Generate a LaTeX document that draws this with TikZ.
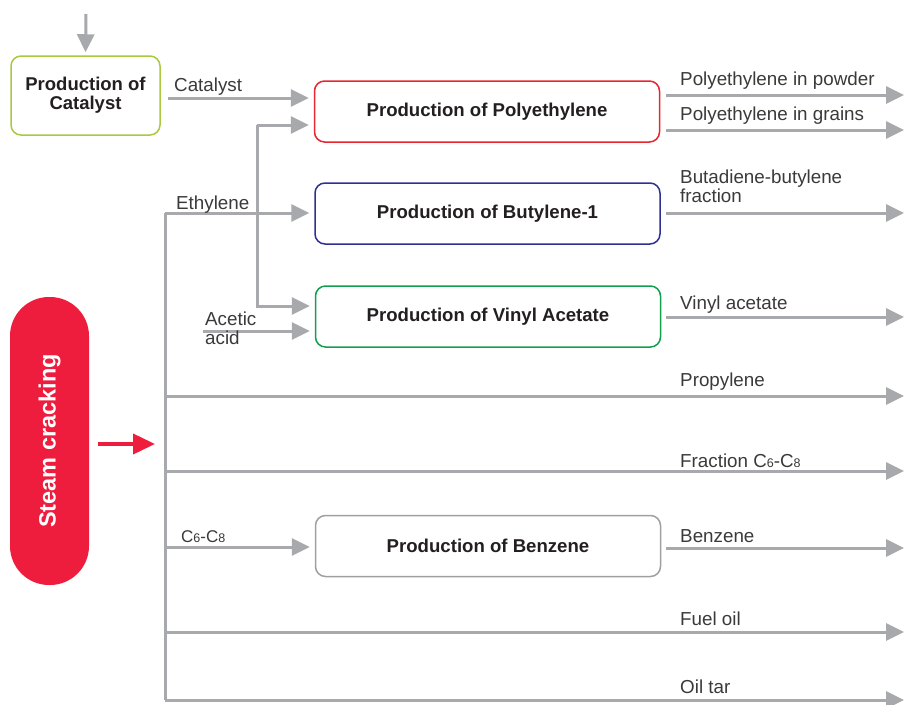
\documentclass[tikz,border=0pt]{standalone}
\usepackage{fontspec}
\setmainfont{Liberation Sans}
\usetikzlibrary{arrows.meta,positioning,calc}
\definecolor{flowgray}{HTML}{A7A9AC}
\definecolor{txtgray}{HTML}{3A3A3A}
\definecolor{boxtxt}{HTML}{231F20}
\definecolor{catgreen}{HTML}{A9C93F}
\definecolor{pered}{HTML}{E8262E}
\definecolor{bublue}{HTML}{2E3192}
\definecolor{vagreen}{HTML}{11A050}
\definecolor{bzgray}{HTML}{A0A0A0}
\definecolor{steamred}{HTML}{EE1C3D}
\newcommand{\subsm}[1]{{\fontsize{12.5}{12}\selectfont #1}}
\tikzset{
  flow/.style={draw=flowgray, line width=3pt, -{Triangle[length=18pt,width=17pt]}},
  flowline/.style={draw=flowgray, line width=3pt},
  procbox/.style={draw, line width=1.5pt, rounded corners=10pt, fill=white,
    minimum width=345pt, minimum height=61pt, text=boxtxt,
    font=\fontsize{18.6}{20}\selectfont\bfseries, align=center},
  lbl/.style={text=txtgray, font=\fontsize{18.8}{19}\selectfont, anchor=base west, inner sep=0pt, align=left},
}
\begin{document}
\begin{tikzpicture}[x=1pt,y=-1pt]
\useasboundingbox (0,0) rectangle (904,704);
\fill[white] (0,0) rectangle (904,704);

% boxes
\node[procbox, draw=catgreen, minimum width=149pt, minimum height=79pt, font=\fontsize{18.5}{19}\selectfont\bfseries] (cat) at (85.5,95.5) {Production of\\Catalyst};
\node[procbox, draw=pered] (pe) at (487,111.5) {Production of Polyethylene};
\node[procbox, draw=bublue] (bu) at (487.5,213.5) {Production of Butylene-1};
\node[procbox, draw=vagreen] (va) at (488,316.5) {Production of Vinyl Acetate};
\node[procbox, draw=bzgray] (bz) at (488,546) {Production of Benzene};

% steam cracking
\node[fill=steamred, rounded corners=39pt, minimum width=79pt, minimum height=288pt, inner sep=0pt] (sc) at (49.5,441) {};
\node[rotate=90, text=white, font=\fontsize{23.5}{24}\selectfont\bfseries] (sct) at (sc.center) {Steam cracking};

% coordinates
\coordinate (topin) at (86,14);
\coordinate (catout) at (168,98);
\coordinate (peinB) at (257,125);
\coordinate (vain) at (257,306);
\coordinate (eth) at (165,213);
\coordinate (acet) at (203,331);
\coordinate (redS) at (98,444);
\coordinate (redE) at (155,444);
\coordinate (mainbot) at (165,700);
\coordinate (prop) at (165,396);
\coordinate (frac) at (165,471);
\coordinate (c68) at (165,547);
\coordinate (fuel) at (165,632);
\coordinate (o1) at (904,95);
\coordinate (o2) at (904,130);
\coordinate (o3) at (904,213);
\coordinate (o4) at (904,317);
\coordinate (o5) at (904,396);
\coordinate (o6) at (904,471);
\coordinate (o7) at (904,548);
\coordinate (o8) at (904,632);
\coordinate (o9) at (904,700);

% top input
\draw[flow, shorten >=3pt] (topin) -- (cat.north);

% catalyst
\draw[flow, shorten >=5pt] (catout) -- (pe.west |- catout);
\node[lbl] (lcat) at (174,91) {Catalyst};

% ethylene branch to PE and VA
\draw[flow, shorten >=5pt] (peinB) -- (vain) -- (va.west |- vain);
\draw[flow, shorten >=5pt] (peinB) -- (pe.west |- peinB);

% main trunk
\draw[flowline] (eth) -- (mainbot);
\draw[flow, shorten >=5pt] (eth) -- (bu.west |- eth);
\node[lbl] (leth) at (176,209) {Ethylene};

% acetic acid
\draw[flow, shorten >=5pt] (acet) -- (va.west |- acet);
\node[lbl, font=\fontsize{18.8}{19}\selectfont] (lacet) at (205,344) {Acetic\\acid};

% red arrow
\draw[draw=steamred, line width=3.8pt, -{Triangle[length=22pt,width=20pt]}] (redS) -- (redE);

% outputs
\draw[flow, shorten <=6pt] (pe.east |- o1) -- (o1);
\node[lbl] (l1) at (680,85) {Polyethylene in powder};
\draw[flow, shorten <=6pt] (pe.east |- o2) -- (o2);
\node[lbl] (l2) at (680,120) {Polyethylene in grains};
\draw[flow, shorten <=5pt] (bu.east |- o3) -- (o3);
\node[lbl, font=\fontsize{18.8}{19}\selectfont] (l3) at (680,202) {Butadiene-butylene\\fraction};
\draw[flow, shorten <=5pt] (va.east |- o4) -- (o4);
\node[lbl] (l4) at (680,309) {Vinyl acetate};
\draw[flow] (prop) -- (o5);
\node[lbl] (l5) at (680,386) {Propylene};
\draw[flow] (frac) -- (o6);
\node[lbl] (l6) at (680,467) {Fraction C\subsm{6}-C\subsm{8}};
\draw[flow, shorten >=5pt] (c68) -- (bz.west |- c68);
\node[lbl, font=\fontsize{17}{18}\selectfont] (l68) at (181,542) {C\subsm{6}-C\subsm{8}};
\draw[flow, shorten <=5pt] (bz.east |- o7) -- (o7);
\node[lbl] (l7) at (680,542) {Benzene};
\draw[flow] (fuel) -- (o8);
\node[lbl] (l8) at (680,625) {Fuel oil};
\draw[flow] (mainbot) -- (o9);
\node[lbl] (l9) at (680,693) {Oil tar};
\end{tikzpicture}
\end{document}
